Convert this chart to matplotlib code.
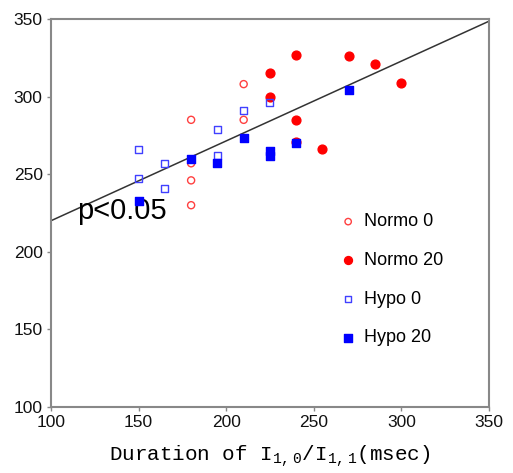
import matplotlib
matplotlib.use("Agg")
import matplotlib.pyplot as plt
import numpy as np

# data
normo0_x = [180, 180, 180, 180, 210, 210]
normo0_y = [285, 257, 246, 230, 308, 285]
normo20_x = [225, 225, 240, 240, 240, 255, 270, 285, 300]
normo20_y = [315, 300, 327, 285, 271, 266, 326, 321, 309]
hypo0_x = [150, 150, 165, 165, 195, 195, 210, 225]
hypo0_y = [266, 247, 257, 241, 279, 262, 291, 296]
hypo20_x = [150, 180, 195, 210, 225, 225, 240, 270]
hypo20_y = [233, 260, 257, 273, 262, 265, 270, 304]
fit_x = [100, 350]
fit_y = [220, 348.5]

plt.rcParams['mathtext.fontset'] = 'custom'
plt.rcParams['mathtext.rm'] = 'Liberation Mono'

fig = plt.figure(figsize=(5.13, 4.73), dpi=100)
ax = fig.add_axes([0.0994, 0.1395, 0.8536, 0.8205])

sans = "Liberation Sans"

ax.plot(fit_x, fit_y, color="#333333", lw=1.1, zorder=1)
ax.scatter(normo0_x, normo0_y, marker="o", s=26, facecolors="none",
           edgecolors="#ff4040", linewidths=1.0, label="Normo 0", zorder=3)
ax.scatter(normo20_x, normo20_y, marker="o", s=40, color="#ff0000",
           label="Normo 20", zorder=3)
ax.scatter(hypo0_x, hypo0_y, marker="s", s=26, facecolors="none",
           edgecolors="#4040ff", linewidths=1.0, label="Hypo 0", zorder=3)
ax.scatter(hypo20_x, hypo20_y, marker="s", s=36, color="#0000ff",
           label="Hypo 20", zorder=4)

ax.text(115, 221, "p<0.05", fontsize=21, fontfamily=sans, color="black",
        va="baseline")

ax.set_xlim(100, 350)
ax.set_ylim(100, 350)
ax.set_xticks([100, 150, 200, 250, 300, 350])
ax.set_yticks([100, 150, 200, 250, 300, 350])
for lab in ax.get_xticklabels() + ax.get_yticklabels():
    lab.set_fontfamily(sans)
    lab.set_fontsize(12.5)
    lab.set_color("#111111")
ax.tick_params(direction="out", length=3, width=1.0, color="#888888", pad=3)
for sp in ax.spines.values():
    sp.set_color("#888888")
    sp.set_linewidth(1.5)

ax.set_xlabel(r"Duration of I$_{\mathrm{1,0}}$/I$_{\mathrm{1,1}}$(msec)",
              fontfamily="Liberation Mono", fontsize=15, labelpad=9)

leg = ax.legend(loc="upper left", bbox_to_anchor=(0.658, 0.499), frameon=False,
                prop={"family": sans, "size": 13}, handlelength=1.0,
                handletextpad=0.4, labelspacing=1.2, markerscale=0.9,
                borderaxespad=0, borderpad=0)

fig.savefig("out.png", dpi=100)
